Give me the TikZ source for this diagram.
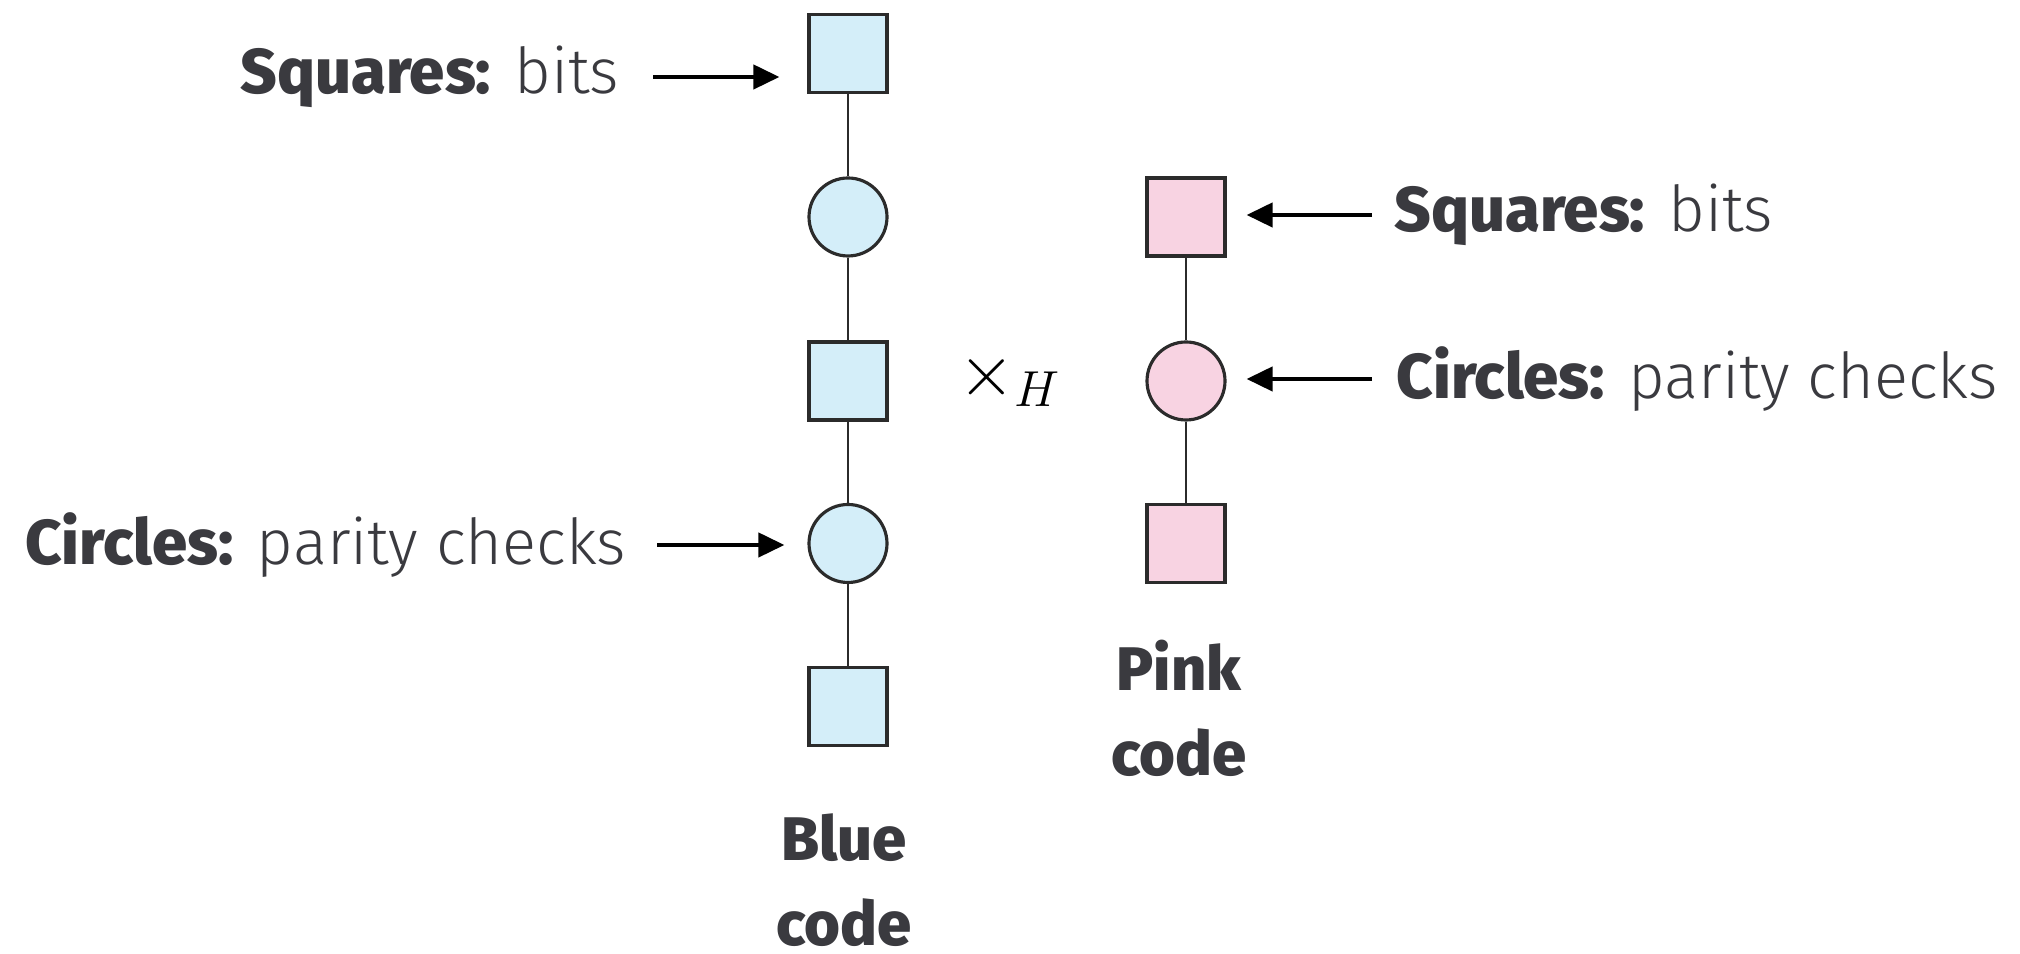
\documentclass[tikz,border=0pt]{standalone}
\usepackage{fontspec}
\setmainfont{Fira Sans}[UprightFont=* Light, BoldFont=* ExtraBold]
\usepackage{tikz}
\usetikzlibrary{positioning, arrows.meta}

\definecolor{inkgray}{HTML}{3A3A3F}
\definecolor{edgegray}{HTML}{2B2B2B}
\definecolor{bluefill}{HTML}{D4EEF9}
\definecolor{pinkfill}{HTML}{F8D3E2}

\tikzset{
  bitsq/.style={draw=edgegray, line width=0.9pt, rectangle, minimum size=0.78cm, inner sep=0pt},
  checkc/.style={draw=edgegray, line width=0.9pt, circle, minimum size=0.78cm, inner sep=0pt},
  link/.style={draw=edgegray, line width=0.6pt},
  arr/.style={-{Triangle[length=0.26cm, width=0.24cm]}, line width=1.2pt, black},
  lbl/.style={text=inkgray, font=\fontsize{18}{22}\selectfont, inner sep=0pt},
  codelbl/.style={text=inkgray, font=\fontsize{17.5}{24}\selectfont\bfseries, align=center, inner sep=0pt}
}

\begin{document}
\begin{tikzpicture}
  \useasboundingbox (0,0) rectangle (20.2,-9.54);

  % blue code: bits and checks in a chain
  \node[bitsq, fill=bluefill] (b1) at (8.48,-0.535) {};
  \node[checkc, fill=bluefill] (c1) at (8.48,-2.17) {};
  \node[bitsq, fill=bluefill] (b2) at (8.48,-3.81) {};
  \node[checkc, fill=bluefill] (c2) at (8.48,-5.435) {};
  \node[bitsq, fill=bluefill] (b3) at (8.48,-7.065) {};
  \draw[link] (b1) -- (c1) -- (b2) -- (c2) -- (b3);
  \node[codelbl] (bluename) at (8.44,-8.80) {Blue\\code};

  % pink code
  \node[bitsq, fill=pinkfill] (p1) at (11.86,-2.17) {};
  \node[checkc, fill=pinkfill] (pc) at (11.86,-3.81) {};
  \node[bitsq, fill=pinkfill] (p2) at (11.86,-5.435) {};
  \draw[link] (p1) -- (pc) -- (p2);
  \node[codelbl] (pinkname) at (11.79,-7.085) {Pink\\code};

  % product sign
  \node[inner sep=0pt, font=\fontsize{22}{26}\selectfont] (prod) at (10.10,-3.8) {$\times_{H}$};

  % legend on the left
  \node[lbl, anchor=east] (lsq) at (6.20,-0.77) {\textbf{Squares:} bits};
  \node[lbl, anchor=east] (lci) at (6.27,-5.45) {\textbf{Circles:} parity checks};
  \draw[arr, shorten <=0.33cm, shorten >=0.28cm] (lsq.east) -- (b1.west |- lsq.east);
  \draw[arr, shorten <=0.30cm, shorten >=0.23cm] (lci.east) -- (c2.west |- lci.east);

  % legend on the right
  \node[lbl, anchor=west] (rsq) at (13.94,-2.15) {\textbf{Squares:} bits};
  \node[lbl, anchor=west] (rci) at (13.96,-3.79) {\textbf{Circles:} parity checks};
  \draw[arr, shorten <=0.22cm, shorten >=0.20cm] (rsq.west) -- (p1.east |- rsq.west);
  \draw[arr, shorten <=0.24cm, shorten >=0.20cm] (rci.west) -- (pc.east |- rci.west);
\end{tikzpicture}
\end{document}
